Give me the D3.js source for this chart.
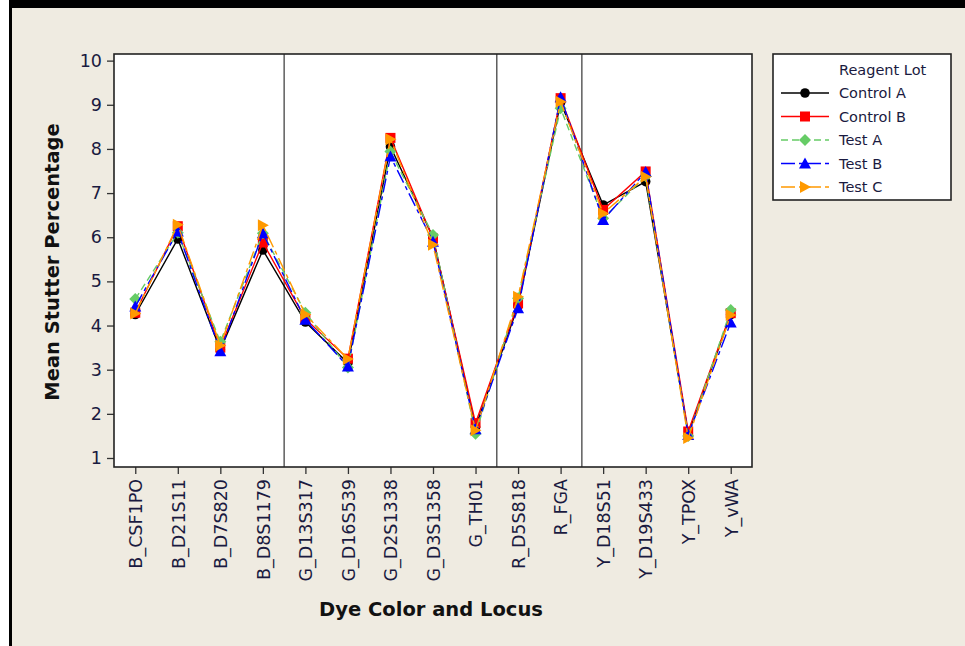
<!DOCTYPE html>
<html><head><meta charset="utf-8">
<script src="https://cdn.jsdelivr.net/npm/d3@7"></script>
<style>html,body{margin:0;padding:0;background:#fff;}svg{display:block;}</style>
</head><body>
<script>
const categories = ["B_CSF1PO","B_D21S11","B_D7S820","B_D8S1179","G_D13S317","G_D16S539","G_D2S1338","G_D3S1358","G_TH01","R_D5S818","R_FGA","Y_D18S51","Y_D19S433","Y_TPOX","Y_vWA"];
const controlA = [4.25, 5.96, 3.45, 5.71, 4.08, 3.15, 8.05, 6.0, 1.7, 4.45, 9.05, 6.73, 7.26, 1.55, 4.25];
const controlB = [4.29, 6.25, 3.5, 5.88, 4.15, 3.25, 8.25, 5.97, 1.79, 4.5, 9.15, 6.62, 7.49, 1.6, 4.28];
const testA    = [4.6, 6.1, 3.63, 6.09, 4.29, 3.05, 7.94, 6.05, 1.55, 4.62, 8.92, 6.43, 7.38, 1.5, 4.35];
const testB    = [4.43, 6.13, 3.42, 6.09, 4.13, 3.07, 7.83, 5.9, 1.65, 4.39, 9.17, 6.39, 7.48, 1.52, 4.07];
const testC    = [4.27, 6.28, 3.55, 6.27, 4.25, 3.24, 8.22, 5.83, 1.63, 4.65, 9.07, 6.54, 7.37, 1.45, 4.24];
const seriesNames = ["Control A","Control B","Test A","Test B","Test C"];
const yTicks = [1,2,3,4,5,6,7,8,9,10];
const dividerAfter = ["B_D8S1179","G_TH01","R_FGA"];

const W = 965, H = 646;
const L = 114, R = 752, T = 54, B = 467;
const svg = d3.select("body").append("svg").attr("width", W).attr("height", H);

// background & frame
svg.append("rect").attr("x",0).attr("y",0).attr("width",W).attr("height",H).attr("fill","#fff");
svg.append("rect").attr("x",9).attr("y",0).attr("width",W-9).attr("height",H).attr("fill","#EFEBE1");
svg.append("rect").attr("x",9).attr("y",0).attr("width",W-9).attr("height",8).attr("fill","#000");
svg.append("rect").attr("x",9).attr("y",0).attr("width",3).attr("height",H).attr("fill","#000");

const x = d3.scalePoint().domain(categories).range([L, R]).padding(0.5);
const y = d3.scaleLinear().domain([0.796, 10.15]).range([B, T]);

// plot area
svg.append("rect").attr("x",L).attr("y",T).attr("width",R-L).attr("height",B-T).attr("fill","#fff");

// dividers
dividerAfter.forEach(c => {
  const i = categories.indexOf(c);
  const xv = (x(categories[i]) + x(categories[i+1]))/2;
  svg.append("line").attr("x1",xv).attr("x2",xv).attr("y1",T).attr("y2",B)
    .attr("stroke","#444").attr("stroke-width",1.3);
});

// axes
const yAxis = svg.append("g").attr("transform",`translate(${L},0)`)
  .call(d3.axisLeft(y).tickValues(yTicks).tickSize(7).tickPadding(5).tickFormat(d3.format("d")));
yAxis.select(".domain").remove();
yAxis.selectAll("line").attr("stroke","#333").attr("stroke-width",1.3);
yAxis.selectAll("text").attr("font-family","'DejaVu Sans', sans-serif").attr("font-size",17.5).attr("fill","#1a1a40");

const xAxis = svg.append("g").attr("transform",`translate(0,${B})`)
  .call(d3.axisBottom(x).tickSize(7).tickPadding(0));
xAxis.select(".domain").remove();
xAxis.selectAll("line").attr("stroke","#333").attr("stroke-width",1.3);
xAxis.selectAll("text")
  .attr("font-family","'DejaVu Sans', sans-serif").attr("font-size",17.5).attr("fill","#1a1a40")
  .attr("transform","rotate(-90)").attr("text-anchor","end")
  .attr("x",-12).attr("y",0).attr("dy","0.36em");

// frame of plot
svg.append("rect").attr("x",L).attr("y",T).attr("width",R-L).attr("height",B-T)
  .attr("fill","none").attr("stroke","#222").attr("stroke-width",1.6);

// series
const series = [
  {name:"Control A", values:controlA, color:"#000000", dash:null, shape:"circle"},
  {name:"Control B", values:controlB, color:"#FF0000", dash:null, shape:"square"},
  {name:"Test A", values:testA, color:"#66CC66", dash:"7,4", shape:"diamond"},
  {name:"Test B", values:testB, color:"#0000FF", dash:"14,4,4,4", shape:"triangle"},
  {name:"Test C", values:testC, color:"#FF9900", dash:"14,4,4,4", shape:"right"}
];

function marker(g, shape, cx, cy, color) {
  if (shape === "circle") {
    g.append("circle").attr("cx",cx).attr("cy",cy).attr("r",4.8).attr("fill",color);
  } else if (shape === "square") {
    g.append("rect").attr("x",cx-5).attr("y",cy-5).attr("width",10).attr("height",10).attr("fill",color);
  } else if (shape === "diamond") {
    g.append("path").attr("d",`M${cx},${cy-6}L${cx+6},${cy}L${cx},${cy+6}L${cx-6},${cy}Z`).attr("fill",color);
  } else if (shape === "triangle") {
    g.append("path").attr("d",`M${cx},${cy-6}L${cx+6},${cy+5}L${cx-6},${cy+5}Z`).attr("fill",color);
  } else if (shape === "right") {
    g.append("path").attr("d",`M${cx+6},${cy}L${cx-5},${cy-6}L${cx-5},${cy+6}Z`).attr("fill",color);
  }
}

const line = d3.line().x((d,i) => x(categories[i])).y(d => y(d));
series.forEach(s => {
  const g = svg.append("g");
  g.append("path").datum(s.values).attr("d", line).attr("fill","none")
    .attr("stroke", s.color).attr("stroke-width",1.4)
    .attr("stroke-dasharray", s.dash);
  s.values.forEach((v,i) => marker(g, s.shape, x(categories[i]), y(v), s.color));
});

// axis titles
svg.append("text").attr("transform",`translate(59,262) rotate(-90)`).attr("text-anchor","middle")
  .attr("font-family","'DejaVu Sans', sans-serif").attr("font-weight","bold").attr("font-size",19.5)
  .attr("fill","#111").text("Mean Stutter Percentage");
svg.append("text").attr("x",431).attr("y",616).attr("text-anchor","middle")
  .attr("font-family","'DejaVu Sans', sans-serif").attr("font-weight","bold").attr("font-size",19.5)
  .attr("fill","#111").text("Dye Color and Locus");

// legend
const lg = svg.append("g");
lg.append("rect").attr("x",773).attr("y",54).attr("width",178).attr("height",146)
  .attr("fill","#fff").attr("stroke","#222").attr("stroke-width",1.6);
lg.append("text").attr("x",839).attr("y",70).attr("dy","0.35em")
  .attr("font-family","'DejaVu Sans', sans-serif").attr("font-size",14.5).attr("fill","#1a1a40").text("Reagent Lot");
const rowY = d3.scalePoint().domain(seriesNames).range([93, 187]);
series.forEach(s => {
  const yy = rowY(s.name);
  lg.append("line").attr("x1",781).attr("x2",829).attr("y1",yy).attr("y2",yy)
    .attr("stroke",s.color).attr("stroke-width",1.4).attr("stroke-dasharray", s.dash);
  marker(lg, s.shape, 805, yy, s.color);
  lg.append("text").attr("x",839).attr("y",yy).attr("dy","0.35em")
    .attr("font-family","'DejaVu Sans', sans-serif").attr("font-size",14.5).attr("fill","#1a1a40").text(s.name);
});
</script>
</body></html>
